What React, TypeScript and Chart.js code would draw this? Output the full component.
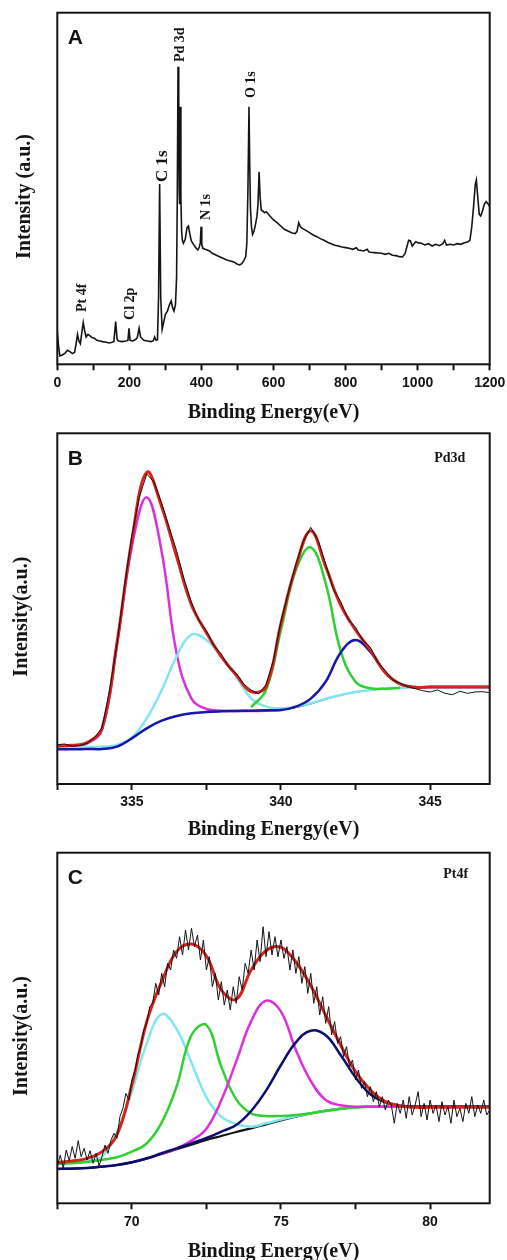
import React, { useEffect, useRef } from "react";
import { Chart, registerables } from "chart.js";

Chart.register(...registerables);

// ---------------- Panel A : survey spectrum ----------------
const surveyEnergy = [
  0, 3, 7, 14, 21, 28, 35, 42, 48, 52, 56, 60, 64, 68, 72, 76, 80, 85, 90, 96,
  103, 110, 118, 126, 135, 145, 152, 157, 162, 166, 170, 180, 190, 196, 199, 202, 210, 218, 222, 227,
  231, 240, 250, 260, 266, 270, 274, 278, 281, 284, 287, 291, 294, 300, 306, 310, 316, 320, 324, 328,
  331, 333, 335, 337, 338.5, 339.5, 341, 343, 345, 347, 350, 355, 360, 364, 368, 372, 378, 384, 390, 394,
  397, 399, 401, 404, 410, 416, 422, 430, 440, 450, 460, 470, 480, 490, 500, 506, 512, 518, 523, 526,
  529, 532, 534, 536, 539, 542, 546, 550, 554, 557, 560, 563, 566, 570, 575, 580, 590, 600, 610, 620,
  630, 640, 650, 660, 665, 670, 675, 680, 690, 700, 710, 720, 730, 740, 750, 760, 770, 780, 790, 800,
  810, 820, 830, 835, 840, 850, 860, 865, 870, 880, 890, 900, 910, 920, 930, 940, 950, 958, 965, 970,
  975, 980, 985, 990, 995, 1000, 1010, 1020, 1030, 1040, 1050, 1060, 1070, 1075, 1080, 1090, 1100, 1110, 1120, 1130,
  1140, 1145, 1150, 1155, 1160, 1163, 1167, 1171, 1175, 1180, 1185, 1190, 1195, 1200,
];
const surveyIntensity = [
  98, 60, 25, 28, 33, 42, 38, 32, 36, 60, 90, 70, 62, 95, 125, 100, 82, 90, 86, 80,
  78, 72, 70, 68, 66, 64, 66, 68, 128, 75, 70, 68, 70, 72, 108, 72, 70, 75, 80, 108,
  82, 72, 70, 68, 70, 82, 72, 74, 200, 541, 200, 105, 120, 150, 160, 175, 190, 170, 160, 180,
  260, 500, 893, 700, 520, 480, 773, 500, 400, 373, 363, 375, 410, 415, 390, 370, 360, 350, 343, 351,
  365, 413, 360, 348, 345, 343, 340, 333, 328, 323, 318, 313, 310, 307, 300, 298, 302, 312, 323, 363,
  520, 773, 600, 470, 410, 390, 400, 420, 443, 480, 578, 500, 463, 460, 455, 458, 445, 433, 425, 415,
  405, 400, 395, 392, 398, 425, 412, 408, 402, 395, 388, 383, 377, 372, 366, 362, 357, 355, 352, 350,
  348, 345, 350, 343, 342, 340, 345, 337, 336, 335, 334, 333, 330, 333, 327, 326, 323, 322, 332, 352,
  372, 370, 355, 362, 368, 365, 363, 358, 362, 355, 360, 356, 362, 372, 358, 360, 358, 362, 360, 365,
  368, 372, 410, 470, 540, 553, 500, 450, 445, 460, 480, 488, 482, 473,
];
const surveyTicks = [0, 100, 200, 300, 400, 500, 600, 700, 800, 900, 1000, 1100, 1200];
const surveyTickLabels = [0, 200, 400, 600, 800, 1000, 1200];
const surveyPeakNames = ["Pt 4f", "Cl 2p", "C 1s", "Pd 3d", "N 1s", "O 1s"];
const surveyPeakEnergy = [71, 202, 291, 340.5, 413, 540];
const surveyPeakIntensity = [157, 133, 547, 907, 433, 799];

// ---------------- Panel B : Pd 3d ----------------
const pdEnergy = [
  332.5, 333, 333.5, 334, 334.5, 335, 335.5, 336, 336.5, 337,
  337.5, 338, 338.5, 339, 339.5, 340, 340.5, 341, 341.5, 342,
  342.5, 343, 343.5, 344, 344.5, 345, 345.5, 346, 346.5, 347,
];
const pdEnvelope = [
  114, 116, 124, 167, 422, 732, 935, 832, 682, 537,
  454, 382, 327, 277, 292, 482, 652, 760, 652, 537,
  462, 402, 334, 300, 290, 291, 291, 291, 291, 291,
];
const pdMetal52 = [
  112, 114, 122, 162, 416, 712, 860, 697, 392, 256,
  225, 220, 219, 219, 220, 222, null, null, null, null,
  null, null, null, null, null, null, null, null, null, null,
];
const pdOxide52 = [
  107, 107, 110, 112, 117, 140, 197, 282, 382, 448,
  432, 382, 322, 257, 232, 227, 232, 242, 256, 267,
  276, 282, 286, 289, 290, 291, 291, 291, 291, 291,
];
const pdMetal32 = [
  null, null, null, null, null, null, null, null, null, null,
  null, null, null, 230, 282, 462, 642, 710, 602, 400,
  307, 287, 286, 288, null, null, null, null, null, null,
];
const pdOxide32 = [
  104, 104, 105, 105, 112, 137, 167, 190, 204, 212,
  216, 218, 219, 220, 221, 222, 232, 256, 307, 394,
  432, 396, 334, 300, 291, 291, 291, 291, 291, 291,
];
const pdBackground = [
  104, 104, 105, 105, 112, 137, 167, 190, 204, 212,
  216, 218, 219, 220, 221, 222, 229, 240, 254, 266,
  275, 281, 286, 288, 290, 291, 291, 291, 291, 291,
];
const pdRawStart = 332.5;
const pdRawStep = 0.25;
const pdRaw = [
  118, 120, 113, 116, 122, 140, 168, 280, 420, 590,
  745, 860, 930, 905, 842, 770, 700, 615, 545, 490,
  460, 415, 390, 350, 332, 300, 282, 270, 298, 372,
  488, 575, 660, 728, 770, 730, 660, 585, 548, 495,
  470, 430, 410, 365, 340, 312, 302, 292, 286, 280,
  276, 282, 272, 268, 278, 272, 276, 277, 274,
];
const pdTicks = [332.5, 335, 337.5, 340, 342.5, 345];
const pdTickLabels = [335, 340, 345];

// ---------------- Panel C : Pt 4f ----------------
const ptEnergy = [
  67.5, 68, 68.5, 69, 69.5, 70, 70.5, 71, 71.5, 72,
  72.5, 73, 73.5, 74, 74.5, 75, 75.5, 76, 76.5, 77,
  77.5, 78, 78.5, 79, 79.5, 80, 80.5, 81, 81.5, 82,
];
const ptEnvelope = [
  122, 127, 135, 155, 205, 355, 545, 665, 755, 778,
  742, 640, 612, 700, 758, 768, 724, 653, 564, 475,
  395, 340, 305, 292, 288, 288, 288, 288, 288, 288,
];
const ptMetal72 = [
  120, 122, 127, 140, 215, 335, 480, 568, 523, 422,
  318, 260, 238, 230, 240, 251, 261, 270, 278, 284,
  288, 290, 290, 290, 290, 290, 290, 290, 290, 290,
];
const ptMetal52 = [
  118, 120, 124, 130, 138, 155, 180, 242, 350, 505,
  535, 410, 312, 270, 262, 262, 265, 270, 277, 283,
  288, 290, 290, 290, 290, 290, 290, 290, 290, 290,
];
const ptOxide72 = [
  null, null, null, null, null, null, null, 148, 164, 188,
  224, 309, 426, 546, 608, 575, 460, 367, 310, 294,
  290, 290, 290, 290, 290, 290, 290, 290, 290, 290,
];
const ptOxide52 = [
  103, 104, 106, 110, 115, 123, 135, 150, 165, 180,
  196, 215, 235, 277, 338, 415, 483, 518, 504, 445,
  378, 327, 303, 293, 290, 290, 290, 290, 290, 290,
];
const ptBackground = [
  103, 104, 106, 110, 115, 123, 134, 148, 162, 176,
  190, 202, 214, 225, 237, 249, 260, 270, 278, 284,
  288, 290, 290, 290, 290, 290, 290, 290, 290, 290,
];
const ptRawStart = 67.5;
const ptRawStep = 0.1;
const ptRaw = [
  110, 145, 105, 160, 128, 170, 135, 188, 140, 165,
  130, 158, 120, 150, 112, 140, 175, 150, 190, 210,
  195, 260, 285, 330, 310, 370, 395, 445, 470, 520,
  540, 590, 600, 660, 625, 690, 650, 720, 700, 760,
  735, 800, 745, 820, 760, 825, 770, 805, 730, 790,
  700, 740, 650, 690, 610, 665, 595, 640, 580, 650,
  600, 680, 640, 720, 690, 760, 700, 790, 725, 830,
  740, 815, 745, 800, 740, 790, 735, 770, 700, 760,
  690, 740, 660, 710, 630, 690, 600, 650, 565, 620,
  540, 590, 505, 545, 480, 500, 440, 470, 410, 430,
  370, 400, 345, 365, 320, 350, 305, 335, 290, 320,
  280, 310, 295, 240, 300, 270, 310, 255, 320, 265,
  295, 335, 260, 300, 250, 310, 270, 295, 245, 305,
  265, 290, 240, 310, 260, 285, 245, 300, 270, 320,
  260, 295, 270, 310, 265, 280,
];
const ptTicks = [67.5, 70, 72.5, 75, 77.5, 80];
const ptTickLabels = [70, 75, 80];

// ---------------- helpers ----------------
const SANS = '"Liberation Sans", Arial, sans-serif';
const SERIF = '"Liberation Serif", "Times New Roman", serif';
const INK = "#141414";

const RED = "#d8231b";
const MAGENTA = "#dc30dc";
const CYAN = "#82e6ee";
const GREEN = "#2fd02f";
const BLUE = "#1717a8";
const NAVY = "#0d0d70";

type Pt = { x: number; y: number };
const pairs = (xs: number[], ys: (number | null)[]): Pt[] =>
  xs.map((x, i) => ({ x, y: ys[i] as number })).filter((p) => p.y !== null && p.y !== undefined);
const stepPairs = (start: number, step: number, ys: number[]): Pt[] =>
  ys.map((y, i) => ({ x: Math.round((start + i * step) * 1000) / 1000, y }));

const line = (label: string, data: Pt[], color: string, width: number, tension: number) => ({
  label,
  data,
  borderColor: color,
  backgroundColor: color,
  borderWidth: width,
  pointRadius: 0,
  tension,
  fill: false,
});

type Spec = {
  key: string;
  top: number;
  height: number;
  padTop: number;
  xHeight: number;
  xMin: number;
  xMax: number;
  ticks: number[];
  tickLabels: number[];
  yMax: number;
  letter: string;
  yTitle: string;
  yTitleX: number;
  xTitleOffset: number;
  corner?: string;
  cornerDx?: number;
  cornerDy?: number;
  peaks?: { names: string[]; energy: number[]; intensity: number[] };
  datasets: any[];
};

function decorPlugin(spec: Spec) {
  return {
    id: "decor" + spec.key,
    afterDraw(chart: any) {
      const { ctx, chartArea: a, scales } = chart;
      ctx.save();
      ctx.strokeStyle = INK;
      ctx.lineWidth = 2;
      ctx.strokeRect(a.left, a.top, a.right - a.left, a.bottom - a.top);

      ctx.fillStyle = INK;
      ctx.textAlign = "center";
      ctx.textBaseline = "middle";
      ctx.font = `bold 21px ${SANS}`;
      ctx.fillText(spec.letter, a.left + 18, a.top + 26);

      ctx.font = `bold 20px ${SERIF}`;
      ctx.textBaseline = "alphabetic";
      ctx.fillText("Binding Energy(eV)", (a.left + a.right) / 2, a.bottom + spec.xTitleOffset);

      if (spec.corner) {
        ctx.font = `bold 14px ${SERIF}`;
        ctx.textBaseline = "middle";
        ctx.fillText(spec.corner, a.right - (spec.cornerDx || 0), a.top + (spec.cornerDy || 0));
      }

      if (spec.peaks) {
        const pk = spec.peaks;
        pk.names.forEach((name, i) => {
          const px = scales.x.getPixelForValue(pk.energy[i]);
          const py = scales.y.getPixelForValue(pk.intensity[i]);
          ctx.save();
          ctx.translate(px, py);
          ctx.rotate(-Math.PI / 2);
          ctx.textAlign = "left";
          ctx.textBaseline = "middle";
          ctx.font = `bold ${name === "C 1s" ? 17 : 14}px ${SERIF}`;
          ctx.fillText(name, 0, 0);
          ctx.restore();
        });
      }

      ctx.translate(spec.yTitleX, (a.top + a.bottom) / 2 + 8);
      ctx.rotate(-Math.PI / 2);
      ctx.textAlign = "center";
      ctx.textBaseline = "middle";
      ctx.font = `bold 20px ${SERIF}`;
      ctx.fillText(spec.yTitle, 0, 0);
      ctx.restore();
    },
  };
}

function buildChart(canvas: HTMLCanvasElement, spec: Spec) {
  return new Chart(canvas, {
    type: "line",
    data: { datasets: spec.datasets },
    options: {
      animation: false,
      responsive: false,
      events: [],
      layout: { padding: { left: 57.3, right: 17.3, top: spec.padTop, bottom: 0 } },
      plugins: { legend: { display: false }, tooltip: { enabled: false } },
      scales: {
        x: {
          type: "linear",
          min: spec.xMin,
          max: spec.xMax,
          afterBuildTicks: (s: any) => {
            s.ticks = spec.ticks.map((v) => ({ value: v }));
          },
          afterFit: (s: any) => {
            s.height = spec.xHeight;
            s.paddingLeft = 0;
            s.paddingRight = 0;
          },
          ticks: {
            autoSkip: false,
            maxRotation: 0,
            minRotation: 0,
            padding: 4,
            color: INK,
            font: { family: SANS, size: 14, weight: "bold" },
            callback: (v: any) => (spec.tickLabels.includes(Number(v)) ? String(v) : ""),
          },
          grid: {
            display: true,
            drawOnChartArea: false,
            drawTicks: true,
            tickLength: 6,
            tickWidth: 2,
            tickColor: INK,
          },
          border: { display: false },
        },
        y: { type: "linear", display: false, min: 0, max: spec.yMax },
      },
    } as any,
    plugins: [decorPlugin(spec)],
  });
}

const specs: Spec[] = [
  {
    key: "A",
    top: 0,
    height: 425,
    padTop: 12.7,
    xHeight: 60.7,
    xMin: 0,
    xMax: 1200,
    ticks: surveyTicks,
    tickLabels: surveyTickLabels,
    yMax: 1055,
    letter: "A",
    yTitle: "Intensity (a.u.)",
    yTitleX: 25,
    xTitleOffset: 53.5,
    peaks: { names: surveyPeakNames, energy: surveyPeakEnergy, intensity: surveyPeakIntensity },
    datasets: [line("Survey", pairs(surveyEnergy, surveyIntensity), INK, 1.6, 0)],
  },
  {
    key: "B",
    top: 425,
    height: 420,
    padTop: 8.3,
    xHeight: 61,
    xMin: 332.5,
    xMax: 347,
    ticks: pdTicks,
    tickLabels: pdTickLabels,
    yMax: 1052,
    letter: "B",
    yTitle: "Intensity(a.u.)",
    yTitleX: 22,
    xTitleOffset: 51,
    corner: "Pd3d",
    cornerDx: 40,
    cornerDy: 25,
    datasets: [
      line("Raw", stepPairs(pdRawStart, pdRawStep, pdRaw), INK, 1, 0),
      line("Envelope", pairs(pdEnergy, pdEnvelope), RED, 3, 0.4),
      line("Pd2+ 3d3/2", pairs(pdEnergy, pdOxide32), BLUE, 2.5, 0.4),
      line("Pd0 3d3/2", pairs(pdEnergy, pdMetal32), GREEN, 2.5, 0.4),
      line("Pd2+ 3d5/2", pairs(pdEnergy, pdOxide52), CYAN, 2.5, 0.4),
      line("Pd0 3d5/2", pairs(pdEnergy, pdMetal52), MAGENTA, 2.5, 0.4),
      line("Background", pairs(pdEnergy, pdBackground), INK, 1, 0.4),
    ],
  },
  {
    key: "C",
    top: 845,
    height: 415,
    padTop: 7.7,
    xHeight: 56.7,
    xMin: 67.5,
    xMax: 82,
    ticks: ptTicks,
    tickLabels: ptTickLabels,
    yMax: 1052,
    letter: "C",
    yTitle: "Intensity(a.u.)",
    yTitleX: 22,
    xTitleOffset: 53.5,
    corner: "Pt4f",
    cornerDx: 34,
    cornerDy: 22,
    datasets: [
      line("Raw", stepPairs(ptRawStart, ptRawStep, ptRaw), INK, 1, 0),
      line("Envelope", pairs(ptEnergy, ptEnvelope), RED, 3, 0.4),
      line("Pt2+ 4f5/2", pairs(ptEnergy, ptOxide52), NAVY, 2.5, 0.4),
      line("Pt2+ 4f7/2", pairs(ptEnergy, ptOxide72), MAGENTA, 2.5, 0.4),
      line("Pt0 4f5/2", pairs(ptEnergy, ptMetal52), GREEN, 2.5, 0.4),
      line("Pt0 4f7/2", pairs(ptEnergy, ptMetal72), CYAN, 2.5, 0.4),
      line("Background", pairs(ptEnergy, ptBackground), INK, 2.2, 0.4),
    ],
  },
];

export default function App() {
  const refA = useRef<HTMLCanvasElement>(null);
  const refB = useRef<HTMLCanvasElement>(null);
  const refC = useRef<HTMLCanvasElement>(null);
  const refs = [refA, refB, refC];

  useEffect(() => {
    const charts = specs.map((spec, i) => buildChart(refs[i].current as HTMLCanvasElement, spec));
    return () => charts.forEach((c) => c.destroy());
  }, []);

  return (
    <div
      style={{
        position: "absolute",
        left: 0,
        top: 0,
        width: 507,
        height: 1260,
        background: "#ffffff",
        overflow: "hidden",
      }}
    >
      {specs.map((spec, i) => (
        <canvas
          key={spec.key}
          ref={refs[i]}
          width={507}
          height={spec.height}
          style={{ position: "absolute", left: 0, top: spec.top, width: 507, height: spec.height, display: "block" }}
        />
      ))}
    </div>
  );
}
